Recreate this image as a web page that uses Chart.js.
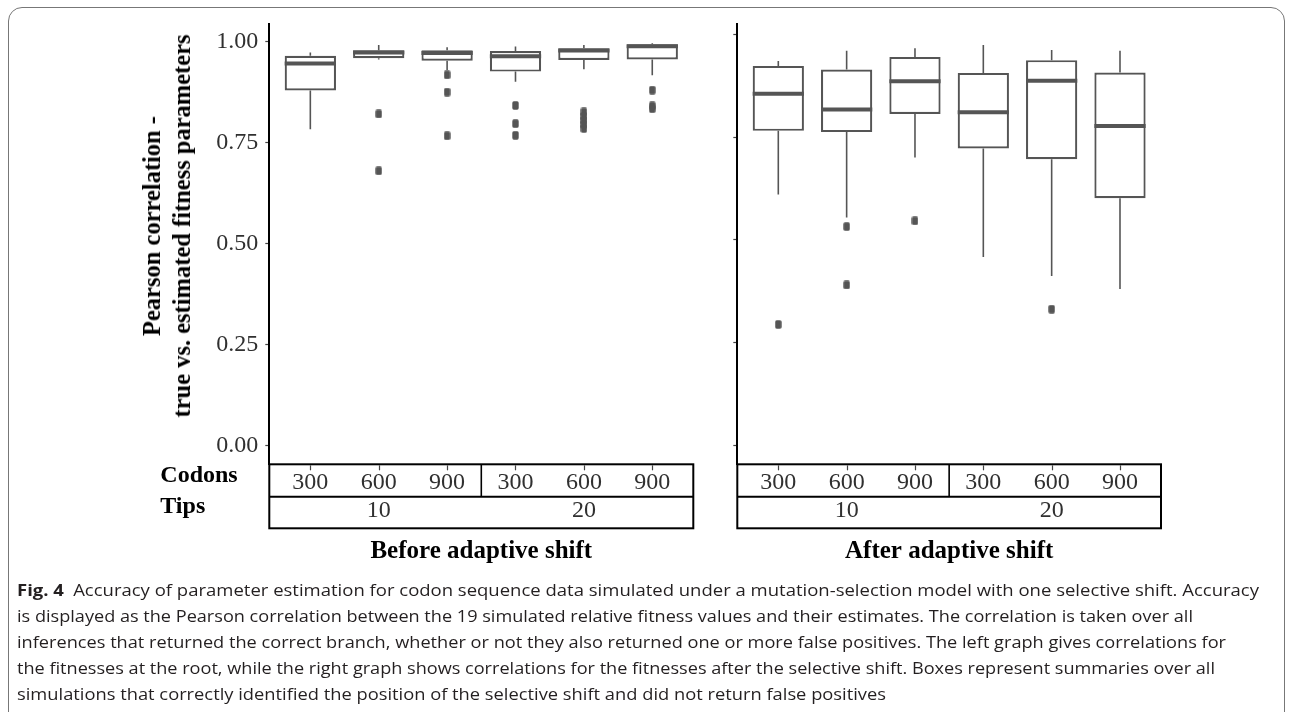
<!DOCTYPE html>
<html>
<head>
<meta charset="utf-8">
<script src="https://cdn.jsdelivr.net/npm/chart.js@4.4.1/dist/chart.umd.min.js"></script>
<style>
  html, body { margin: 0; padding: 0; background: #fff; }
  body { width: 1292px; height: 712px; position: relative; overflow: hidden; }
  #frame { position: absolute; left: 8px; top: 7px; width: 1277px; height: 722px;
           border: 1.5px solid #777; border-radius: 14px; box-sizing: border-box; }
  canvas { position: absolute; top: 0; }
  #c1 { left: 0; }
  #c2 { left: 700px; }
  #ytitle { position: absolute; left: 167px; top: 226px;
            transform: translate(-50%, -50%) rotate(-90deg);
            font: bold 24.5px "Liberation Serif", serif; line-height: 30px;
            text-align: center; white-space: nowrap; color: #000; }
  #caption { position: absolute; left: 17px; top: 577px; font-family: "Open Sans", sans-serif;
             font-size: 16.5px; line-height: 26px; color: #231f20; }
  #caption div { white-space: nowrap; transform-origin: 0 50%; width: max-content; }
  #caption b { font-weight: 700; }
</style>
</head>
<body>
<div id="frame"></div>
<canvas id="c1" width="700" height="580"></canvas>
<canvas id="c2" width="592" height="580"></canvas>
<div id="ytitle">Pearson correlation -<br>true vs. estimated fitness parameters</div>
<div id="caption">
  <div><b>Fig. 4</b>&ensp;Accuracy of parameter estimation for codon sequence data simulated under a mutation-selection model with one selective shift. Accuracy</div>
  <div>is displayed as the Pearson correlation between the 19 simulated relative fitness values and their estimates. The correlation is taken over all</div>
  <div>inferences that returned the correct branch, whether or not they also returned one or more false positives. The left graph gives correlations for</div>
  <div>the fitnesses at the root, while the right graph shows correlations for the fitnesses after the selective shift. Boxes represent summaries over all</div>
  <div>simulations that correctly identified the position of the selective shift and did not return false positives</div>
</div>
<script>
// ---- categories and tick labels ----
const codons = ['300', '600', '900', '300', '600', '900'];
const tips = ['10', '20'];
const yTicks = [0, 0.25, 0.5, 0.75, 1];

// ---- Before adaptive shift: box-plot summaries per codon/tips group ----
const beforeLow    = [0.783, 0.956, 0.930, 0.901, 0.932, 0.917];
const beforeQ1     = [0.879, 0.959, 0.953, 0.926, 0.955, 0.956];
const beforeMedian = [0.946, 0.973, 0.972, 0.964, 0.978, 0.989];
const beforeQ3     = [0.965, 0.979, 0.979, 0.977, 0.984, 0.994];
const beforeHigh   = [0.973, 0.992, 0.986, 0.988, 0.992, 0.996];
const beforeOutliers = [
  [],
  [0.821, 0.680],
  [0.918, 0.875, 0.767],
  [0.842, 0.797, 0.768],
  [0.826, 0.815, 0.805, 0.795, 0.785],
  [0.880, 0.841, 0.834]
];

// ---- After adaptive shift ----
const afterLow    = [0.610, 0.554, 0.700, 0.458, 0.412, 0.380];
const afterQ1     = [0.765, 0.762, 0.806, 0.722, 0.696, 0.601];
const afterMedian = [0.855, 0.817, 0.886, 0.810, 0.887, 0.777];
const afterQ3     = [0.923, 0.914, 0.945, 0.906, 0.937, 0.907];
const afterHigh   = [0.935, 0.960, 0.966, 0.974, 0.962, 0.960];
const afterOutliers = [
  [0.294],
  [0.532, 0.390],
  [0.546],
  [],
  [0.331],
  []
];

// ---- styling ----
const INK = '#555555';
const TICK = '#444444';
const TXT = '#303030';
const SERIF = '"Liberation Serif", "Times New Roman", serif';
const BOX_WIDTH = 0.75;          // fraction of a category slot
const AREA_TOP = 24, AREA_BOTTOM = 464.3, CANVAS_H = 580;
const ROW1 = 32.4, ROW2 = 31.6;  // heights of the Codons and Tips strips

// outlier marker
const dot = document.createElement('canvas');
dot.width = 7; dot.height = 9;
(function () {
  const g = dot.getContext('2d');
  g.fillStyle = INK;
  g.beginPath();
  g.roundRect(0.3, 0.3, 6.4, 8.4, 1.6);
  g.fill();
})();

function boxDatasets(lo, q1, med, q3, hi, out) {
  const boxes = q1.map((v, i) => ({ x: i + 1, y: [v, q3[i]] }));
  const whiskers = [];
  q1.forEach((v, i) => {
    const x = i + 1;
    whiskers.push({ x, y: q3[i] }, { x, y: hi[i] }, { x, y: null },
                  { x, y: v }, { x, y: lo[i] }, { x, y: null });
  });
  const medians = [];
  med.forEach((m, i) => {
    medians.push({ x: i + 1 - BOX_WIDTH / 2, y: m }, { x: i + 1 + BOX_WIDTH / 2, y: m }, { x: i + 1, y: null });
  });
  const points = [];
  out.forEach((arr, i) => arr.forEach(v => points.push({ x: i + 1, y: v })));
  return [
    { type: 'line', data: whiskers, borderColor: INK, borderWidth: 1.6, pointRadius: 0,
      spanGaps: false, order: 4 },
    { type: 'bar', data: boxes, backgroundColor: '#ffffff', borderColor: INK, borderWidth: 2.2,
      borderSkipped: false, barPercentage: BOX_WIDTH, categoryPercentage: 1, order: 3 },
    { type: 'line', data: medians, borderColor: INK, borderWidth: 4, pointRadius: 0,
      spanGaps: false, borderCapStyle: 'butt', order: 1 },
    { type: 'scatter', data: points, pointStyle: dot, pointRadius: 4, order: 0 }
  ];
}

// strip table under the panel: codon row, tips row, panel title
const stripPlugin = {
  id: 'strip',
  afterDraw(chart, args, o) {
    const { ctx, chartArea: { left, right, bottom } } = chart;
    const xs = chart.scales.x;
    const r1 = bottom, r2 = bottom + ROW1, r3 = r2 + ROW2;
    ctx.save();
    ctx.strokeStyle = '#000';
    ctx.lineWidth = 2;
    ctx.strokeRect(left, r1, right - left, r3 - r1);
    ctx.beginPath(); ctx.moveTo(left, r2); ctx.lineTo(right, r2); ctx.stroke();
    const mid = xs.getPixelForValue(3.5);
    ctx.lineWidth = 1.6;
    ctx.beginPath(); ctx.moveTo(mid, r1); ctx.lineTo(mid, r2); ctx.stroke();

    // small axis ticks hanging into the codon strip
    ctx.strokeStyle = TICK;
    ctx.lineWidth = 1.2;
    xs.ticks.forEach(t => {
      const px = Math.round(xs.getPixelForValue(t.value)) + 0.5;
      ctx.beginPath(); ctx.moveTo(px, r1 + 1); ctx.lineTo(px, r1 + 6); ctx.stroke();
    });

    ctx.fillStyle = TXT;
    ctx.font = '24px ' + SERIF;
    ctx.textAlign = 'center';
    ctx.textBaseline = 'alphabetic';
    ctx.fillText(tips[0], xs.getPixelForValue(2), r2 + 20.5);
    ctx.fillText(tips[1], xs.getPixelForValue(5), r2 + 20.5);

    ctx.fillStyle = '#000';
    if (o.header) {
      ctx.font = 'bold 24px ' + SERIF;
      ctx.textAlign = 'left';
      ctx.fillText('Codons', left - 109, r1 + 17.5);
      ctx.fillText('Tips', left - 109, r2 + 16);
    }
    ctx.font = 'bold 25px ' + SERIF;
    ctx.textAlign = 'center';
    ctx.fillText(o.title, (left + right) / 2, r3 + 30);
    ctx.restore();
  }
};

function makePanel(id, datasets, cfg) {
  return new Chart(document.getElementById(id), {
    type: 'bar',
    data: { datasets },
    plugins: [stripPlugin],
    options: {
      responsive: false,
      animation: false,
      devicePixelRatio: 1,
      layout: { padding: { top: AREA_TOP, left: 0, right: cfg.rightPad, bottom: 0 } },
      plugins: {
        legend: { display: false },
        tooltip: { enabled: false },
        strip: { header: cfg.header, title: cfg.title }
      },
      scales: {
        x: {
          type: 'linear', min: 0.4, max: 6.6, offset: false,
          afterBuildTicks: s => { s.ticks = codons.map((_, i) => ({ value: i + 1 })); },
          ticks: {
            callback: (v, i) => codons[i],
            font: { family: SERIF, size: 24 }, color: TXT, padding: 0,
            maxRotation: 0, autoSkip: false
          },
          grid: { offset: false, display: false, tickLength: 4 },
          border: { display: false },
          afterFit: s => { s.height = CANVAS_H - AREA_BOTTOM; }
        },
        y: {
          type: 'linear', min: cfg.yMin, max: cfg.yMax,
          afterBuildTicks: s => { s.ticks = yTicks.map(v => ({ value: v })); },
          ticks: {
            display: cfg.header,
            callback: v => Number(v).toFixed(2),
            font: { family: SERIF, size: 24 }, color: TXT, padding: 7
          },
          grid: { offset: false, drawOnChartArea: false, drawTicks: true, tickLength: 4,
                  color: TICK, tickColor: TICK, tickWidth: 1.2 },
          border: { display: true, color: '#000', width: 2 },
          afterFit: s => { s.width = cfg.axisWidth; }
        }
      }
    }
  });
}

function fitCaption() {
  const ends = [1259, 1193, 1226, 1215, 886];
  const start = 17;
  document.querySelectorAll('#caption div').forEach((d, i) => {
    const w = d.getBoundingClientRect().width;
    d.style.transform = 'scaleX(' + ((ends[i] - start) / w) + ')';
  });
}

function drawAll() {
  makePanel('c1', boxDatasets(beforeLow, beforeQ1, beforeMedian, beforeQ3, beforeHigh, beforeOutliers),
    { header: true, title: 'Before adaptive shift', yMin: -0.047, yMax: 1.0439, axisWidth: 269.3, rightPad: 6.7 });
  makePanel('c2', boxDatasets(afterLow, afterQ1, afterMedian, afterQ3, afterHigh, afterOutliers),
    { header: false, title: 'After adaptive shift', yMin: -0.0463, yMax: 1.025, axisWidth: 37.3, rightPad: 131 });
  fitCaption();
}

if (document.fonts && document.fonts.ready) {
  document.fonts.load('24px "Liberation Serif"').then(() => document.fonts.load('bold 24px "Liberation Serif"'))
    .then(() => document.fonts.load('16px "Open Sans"')).then(() => document.fonts.load('bold 16px "Open Sans"'))
    .then(drawAll, drawAll);
} else {
  drawAll();
}
</script>
</body>
</html>
